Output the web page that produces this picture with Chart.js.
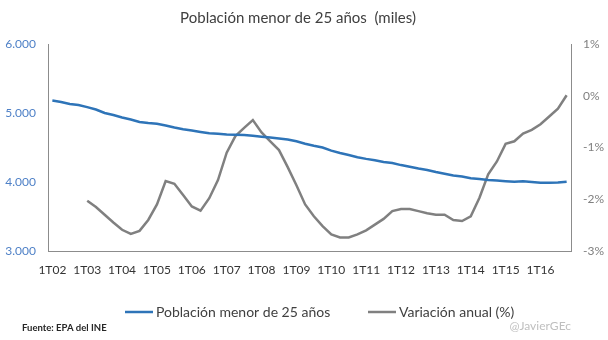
<!DOCTYPE html>
<html>
<head>
<meta charset="utf-8">
<script src="https://cdn.jsdelivr.net/npm/chart.js@4/dist/chart.umd.min.js"></script>
<style>
  html, body { margin: 0; padding: 0; background: #fff; }
  #wrap { width: 608px; height: 340px; }
</style>
</head>
<body>
<div id="wrap"><canvas id="chart" width="608" height="340"></canvas></div>
<script>
// quarters 1T02 .. 4T16
const years = ['02', '03', '04', '05', '06', '07', '08', '09', '10', '11', '12', '13', '14', '15', '16'];
const quarters = years.flatMap((y) => ['1', '2', '3', '4'].map((q) => q + 'T' + y));

// Población menor de 25 años (miles), left axis
const poblacion = [
  5180, 5160, 5130, 5115, 5085, 5050, 5000, 4970, 4935, 4905,
  4870, 4855, 4845, 4820, 4790, 4765, 4745, 4725, 4705, 4700,
  4690, 4685, 4680, 4670, 4657, 4645, 4630, 4615, 4590, 4555,
  4525, 4500, 4455, 4420, 4390, 4360, 4335, 4315, 4290, 4275,
  4245, 4220, 4195, 4175, 4145, 4120, 4095, 4080, 4055, 4045,
  4030, 4020, 4012, 4005, 4010, 4000, 3990, 3990, 3992, 4005
];

// Variación anual (%), right axis (starts at 1T03)
const variacion = [
  null, null, null, null, -2.03, -2.15, -2.30, -2.45, -2.59, -2.67,
  -2.61, -2.40, -2.10, -1.65, -1.70, -1.92, -2.14, -2.22, -1.98, -1.63,
  -1.10, -0.78, -0.62, -0.47, -0.71, -0.88, -1.05, -1.38, -1.73, -2.10,
  -2.33, -2.52, -2.68, -2.74, -2.74, -2.68, -2.60, -2.49, -2.38, -2.23,
  -2.19, -2.19, -2.23, -2.27, -2.30, -2.30, -2.40, -2.42, -2.33, -1.97,
  -1.52, -1.27, -0.93, -0.88, -0.73, -0.66, -0.55, -0.40, -0.25, 0.01
];

const leftTicks = [3000, 4000, 5000, 6000];
const rightTicks = [-3, -2, -1, 0, 1];

const TITLE = 'Población menor de 25 años  (miles)';
const SERIES_NAMES = ['Población menor de 25 años', 'Variación anual (%)'];
const SOURCE = 'Fuente: EPA del INE';
const HANDLE = '@JavierGEc';

const FONT = 'Lato, "Open Sans", sans-serif';
const BLUE = '#2E74B8';
const GREY = '#808080';
const AXIS = '#8c8c8c';

const fmtThousands = (v) => String(v).replace(/\B(?=(\d{3})+(?!\d))/g, '.');

// titles, legend and footnotes
const decorations = {
  id: 'decorations',
  afterDraw(chart) {
    const { ctx } = chart;
    ctx.save();
    ctx.textBaseline = 'middle';

    ctx.fillStyle = '#404040';
    ctx.font = `15px ${FONT}`;
    ctx.textAlign = 'center';
    ctx.fillText(TITLE, 298, 18);

    // legend
    ctx.textAlign = 'left';
    ctx.font = `14px ${FONT}`;
    const legendY = 312;
    const items = [
      { x: 125, color: BLUE, text: SERIES_NAMES[0] },
      { x: 368, color: GREY, text: SERIES_NAMES[1] },
    ];
    items.forEach((it) => {
      ctx.strokeStyle = it.color;
      ctx.lineWidth = 2.5;
      ctx.beginPath();
      ctx.moveTo(it.x, legendY);
      ctx.lineTo(it.x + 28, legendY);
      ctx.stroke();
      ctx.fillStyle = '#404040';
      ctx.fillText(it.text, it.x + 31, legendY);
    });

    ctx.font = `bold 9.5px ${FONT}`;
    ctx.fillStyle = '#262626';
    ctx.fillText(SOURCE, 22, 328);

    ctx.font = `12px ${FONT}`;
    ctx.fillStyle = '#bfbfbf';
    ctx.textAlign = 'right';
    ctx.fillText(HANDLE, 571, 326);
    ctx.restore();
  },
};

new Chart(document.getElementById('chart').getContext('2d'), {
  type: 'line',
  data: {
    labels: quarters,
    datasets: [
      {
        label: SERIES_NAMES[0],
        data: poblacion,
        yAxisID: 'y',
        borderColor: BLUE,
        borderWidth: 2.5,
        pointRadius: 0,
        tension: 0,
      },
      {
        label: SERIES_NAMES[1],
        data: variacion,
        yAxisID: 'y1',
        borderColor: GREY,
        borderWidth: 2.5,
        pointRadius: 0,
        tension: 0,
        spanGaps: false,
      },
    ],
  },
  options: {
    responsive: false,
    animation: false,
    devicePixelRatio: 1,
    layout: {
      padding: { top: 44, bottom: 59, left: 0, right: 0 },
    },
    plugins: {
      legend: { display: false },
      title: { display: false },
      tooltip: { enabled: false },
    },
    scales: {
      x: {
        type: 'category',
        offset: true,
        grid: { display: false, drawTicks: false },
        border: { display: true, color: AXIS, width: 1 },
        afterFit: (scale) => { scale.height = 30; },
        ticks: {
          autoSkip: false,
          maxRotation: 0,
          minRotation: 0,
          padding: 12,
          color: '#333333',
          font: { family: FONT, size: 12 },
          callback: (val, i) => (i % 4 === 0 ? quarters[i] : null),
        },
      },
      y: {
        position: 'left',
        min: leftTicks[0],
        max: leftTicks[leftTicks.length - 1],
        grid: { display: false, drawTicks: false },
        border: { display: true, color: AXIS, width: 1 },
        afterFit: (scale) => { scale.width = 48; },
        afterBuildTicks: (scale) => { scale.ticks = leftTicks.map((v) => ({ value: v })); },
        ticks: {
          padding: 12,
          color: '#4F81C7',
          font: { family: FONT, size: 12 },
          callback: (v) => fmtThousands(v),
        },
      },
      y1: {
        position: 'right',
        min: rightTicks[0],
        max: rightTicks[rightTicks.length - 1],
        grid: { display: false, drawTicks: false },
        border: { display: true, color: AXIS, width: 1 },
        afterFit: (scale) => { scale.width = 37; },
        afterBuildTicks: (scale) => { scale.ticks = rightTicks.map((v) => ({ value: v })); },
        ticks: {
          padding: 12,
          color: '#808080',
          font: { family: FONT, size: 12 },
          callback: (v) => v + '%',
        },
      },
    },
  },
  plugins: [decorations],
});
</script>
</body>
</html>
